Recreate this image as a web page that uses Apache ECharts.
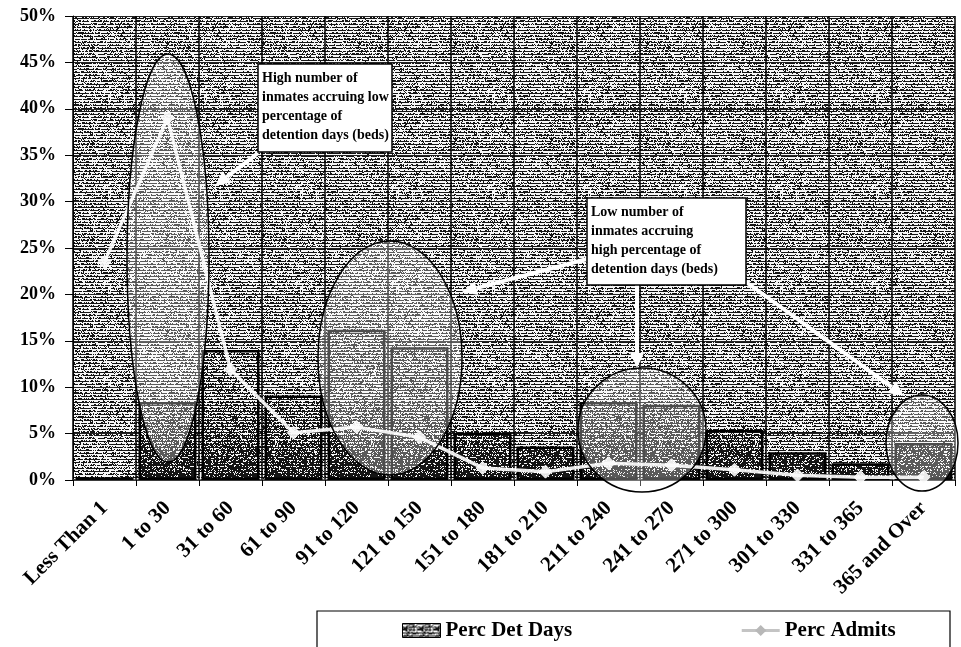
<!DOCTYPE html>
<html>
<head>
<meta charset="utf-8">
<script src="https://cdn.jsdelivr.net/npm/echarts@6/dist/echarts.min.js"></script>
<style>
  html, body { margin: 0; padding: 0; background: #fff; }
  #chart { width: 961px; height: 647px; }
</style>
</head>
<body>
<div id="chart"></div>
<script>
// Length-of-stay buckets (days)
const categories = ['Less Than 1', '1 to 30', '31 to 60', '61 to 90', '91 to 120', '121 to 150',
  '151 to 180', '181 to 210', '211 to 240', '241 to 270', '271 to 300', '301 to 330',
  '331 to 365', '365 and Over'];
// Share of detention days (beds), percent
const percDetDays = [0.3, 8.4, 14.0, 9.1, 16.2, 14.3, 5.1, 3.6, 8.4, 8.1, 5.4, 3.0, 1.8, 4.0];
// Share of admissions, percent
const percAdmits = [23.5, 39.0, 11.9, 5.1, 5.7, 4.6, 1.3, 0.9, 1.8, 1.6, 1.1, 0.5, 0.3, 0.3];
// Value axis
const yMin = 0, yMax = 50, yStep = 5;

const FONT = '"Liberation Serif", "Times New Roman", serif';

// Deterministic hash noise for the halftone textures
function noise(x, y) {
  let h = (x * 374761393 + y * 668265263) | 0;
  h = (h ^ (h >>> 13)) * 1274126177 | 0;
  return ((h ^ (h >>> 16)) >>> 0) / 4294967295;
}
// Row-based halftone: dark horizontal dashes every third row
function rowDensity(y) {
  const r = y % 3;
  return r === 0 ? 0.86 : (r === 1 ? 0.06 : 0.34);
}
function makeTile(w, h, densityFn) {
  const c = document.createElement('canvas');
  c.width = w; c.height = h;
  const g = c.getContext('2d');
  g.fillStyle = '#f6f6f6';
  g.fillRect(0, 0, w, h);
  g.fillStyle = '#141414';
  for (let y = 0; y < h; y++) {
    for (let x = 0; x < w; x++) {
      if (noise(x, y) < densityFn(x, y)) g.fillRect(x, y, 1, 1);
    }
  }
  return c;
}
const plotTile = makeTile(96, 96, (x, y) => rowDensity(y));
// Bar fill: a little denser than the plot area, darkening towards the baseline
// (tile spans the whole canvas height so the shading follows screen y)
const barTile = makeTile(96, 647, (x, y) => {
  const base = Math.min(1, rowDensity(y) + 0.08);
  const t = Math.min(1, Math.max(0, (y - 400) / 80));
  return base + (0.95 - base) * t * 0.8;
});
const legendTile = makeTile(16, 16, (x, y) => (y % 3 === 0 ? 0.9 : 0.3));

const chart = echarts.init(document.getElementById('chart'), null, { renderer: 'canvas' });

// Annotation geometry (screen pixels)
const ellipses = [
  { cx: 168, cy: 258, rx: 41, ry: 204 },
  { cx: 390, cy: 358, rx: 72, ry: 117 },
  { cx: 642, cy: 430, rx: 64, ry: 62 },
  { cx: 922, cy: 443, rx: 36, ry: 48 }
];
const arrows = [
  [258, 153, 215, 186],
  [587, 259, 462, 292],
  [637, 285, 637, 368],
  [746, 282, 904, 396]
];
const boxes = [
  { x: 258, y: 64, w: 134, h: 88,
    text: 'High number of\ninmates accruing low\npercentage of\ndetention days (beds)' },
  { x: 587, y: 198, w: 159, h: 87,
    text: 'Low number of\ninmates accruing\nhigh percentage of\ndetention days (beds)' }
];

function arrowElements(a) {
  const [x1, y1, x2, y2] = a;
  const ang = Math.atan2(y2 - y1, x2 - x1);
  const L = 15, W = 7;
  const bx = x2 - L * Math.cos(ang), by = y2 - L * Math.sin(ang);
  const px = -Math.sin(ang) * W, py = Math.cos(ang) * W;
  return [
    { type: 'line', z: 60, shape: { x1, y1, x2: bx, y2: by },
      style: { stroke: '#fff', lineWidth: 4 } },
    { type: 'polygon', z: 60, shape: { points: [[x2, y2], [bx + px, by + py], [bx - px, by - py]] },
      style: { fill: '#fff' } }
  ];
}

const graphics = [];
ellipses.forEach(e => graphics.push({
  type: 'ellipse', z: 50, shape: e,
  style: { fill: 'rgba(255,255,255,0.3)', stroke: '#000', lineWidth: 1.5 }
}));
arrows.forEach(a => graphics.push(...arrowElements(a)));
boxes.forEach(b => {
  graphics.push({ type: 'rect', z: 70, shape: { x: b.x, y: b.y, width: b.w, height: b.h },
    style: { fill: '#fff', stroke: '#000', lineWidth: 1.5 } });
  graphics.push({ type: 'text', z: 71, x: b.x + 4, y: b.y + 5,
    style: { text: b.text, font: 'bold 14px ' + FONT, fill: '#000', lineHeight: 19 } });
});
// Legend frame (runs off the bottom edge)
graphics.push({ type: 'rect', z: 5, shape: { x: 317, y: 611, width: 633, height: 80 },
  style: { fill: '#fff', stroke: '#000', lineWidth: 1.2 } });

chart.setOption({
  animation: false,
  backgroundColor: '#fff',
  grid: {
    left: 73, right: 6, top: 16, bottom: 167,
    show: true, borderWidth: 0,
    backgroundColor: { image: plotTile, repeat: 'repeat' }
  },
  legend: {
    left: 397, top: 615, z: 10,
    itemWidth: 38, itemHeight: 14, itemGap: 168,
    textStyle: { fontFamily: FONT, fontWeight: 'bold', fontSize: 21, color: '#000' },
    data: [
      { name: 'Perc Det Days', icon: 'rect',
        itemStyle: { color: { image: legendTile, repeat: 'repeat' }, borderColor: '#000', borderWidth: 1 } },
      { name: 'Perc Admits',
        lineStyle: { color: '#c4c4c4', width: 3 },
        itemStyle: { color: '#b8b8b8', borderColor: '#b8b8b8' } }
    ]
  },
  xAxis: {
    type: 'category',
    data: categories,
    boundaryGap: true,
    axisLine: { lineStyle: { color: '#444', width: 1.5 } },
    axisTick: { show: true, length: 6, lineStyle: { color: '#000' } },
    splitLine: { show: true, lineStyle: { color: '#000', width: 1.5 } },
    axisLabel: {
      rotate: 45, margin: 25, interval: 0,
      fontFamily: FONT, fontWeight: 'bold', fontSize: 21, color: '#000'
    }
  },
  yAxis: {
    type: 'value',
    min: yMin, max: yMax, interval: yStep,
    axisLine: { show: true, lineStyle: { color: '#000', width: 1 } },
    axisTick: { show: true, length: 8, lineStyle: { color: '#000' } },
    splitLine: { show: true, lineStyle: { color: '#222', width: 1.2 } },
    axisLabel: {
      formatter: '{value}%', margin: 17,
      fontFamily: FONT, fontWeight: 'bold', fontSize: 18, color: '#000'
    }
  },
  series: [
    {
      name: 'Perc Det Days',
      type: 'bar',
      data: percDetDays,
      barCategoryGap: '8%',
      itemStyle: {
        color: { image: barTile, repeat: 'repeat' },
        borderColor: '#000', borderWidth: 2.5
      }
    },
    {
      name: 'Perc Admits',
      type: 'line',
      data: percAdmits,
      symbol: 'diamond', symbolSize: 13,
      lineStyle: { color: 'rgba(255,255,255,0.9)', width: 3.5 },
      itemStyle: { color: 'rgba(250,250,250,0.9)', borderColor: 'rgba(255,255,255,0.9)' },
      z: 3
    }
  ],
  graphic: { elements: graphics }
});
</script>
</body>
</html>
